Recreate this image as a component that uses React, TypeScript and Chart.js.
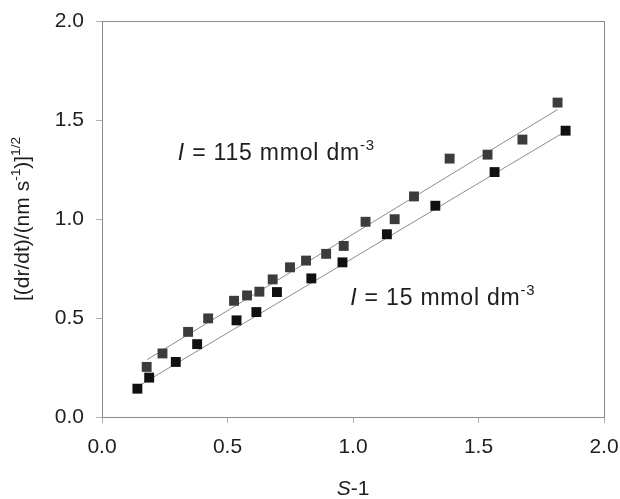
import React, { useEffect, useRef } from "react";
import { Chart, registerables } from "chart.js";

Chart.register(...registerables);

// Data
const xHigh = [0.178, 0.241, 0.343, 0.423, 0.526, 0.578, 0.627, 0.68, 0.749, 0.813, 0.893, 0.963, 1.05, 1.166, 1.243, 1.385, 1.536, 1.675, 1.815];
const yHigh = [0.253, 0.321, 0.43, 0.498, 0.587, 0.614, 0.633, 0.695, 0.756, 0.79, 0.824, 0.864, 0.986, 0.999, 1.114, 1.305, 1.325, 1.401, 1.588];

const xLow = [0.141, 0.188, 0.294, 0.379, 0.536, 0.615, 0.697, 0.834, 0.958, 1.135, 1.328, 1.564, 1.847];
const yLow = [0.143, 0.199, 0.278, 0.368, 0.488, 0.53, 0.631, 0.7, 0.781, 0.923, 1.067, 1.237, 1.446];

// Fitted lines (end points)
const fitHighX = [0.18, 1.815];
const fitHighY = [0.29, 1.553];
const fitLowX = [0.141, 1.847];
const fitLowY = [0.153, 1.443];

const tickValues = [0, 0.5, 1.0, 1.5, 2.0];
const tickLabels = ["0.0", "0.5", "1.0", "1.5", "2.0"];

const labelHigh = { x: 0.302, y: 1.298, main: " = 115 mmol dm", sup: "-3" };
const labelLow = { x: 0.989, y: 0.566, main: " = 15 mmol dm", sup: "-3" };

const FAMILY = '"Liberation Sans", Arial, Helvetica, sans-serif';
const TEXT = "#1e1e1e";

type Seg = { t: string; italic?: boolean; sup?: boolean };

function measureRich(ctx: CanvasRenderingContext2D, segs: Seg[], size: number) {
  let w = 0;
  for (const s of segs) {
    const sz = s.sup ? size * 0.65 : size;
    ctx.font = `${s.italic ? "italic " : ""}${sz}px ${FAMILY}`;
    w += ctx.measureText(s.t).width;
  }
  return w;
}

function drawRich(ctx: CanvasRenderingContext2D, segs: Seg[], x: number, y: number, size: number) {
  let cx = x;
  for (const s of segs) {
    const sz = s.sup ? size * 0.65 : size;
    ctx.font = `${s.italic ? "italic " : ""}${sz}px ${FAMILY}`;
    ctx.fillText(s.t, cx, s.sup ? y - size * 0.42 : y);
    cx += ctx.measureText(s.t).width;
  }
}

const overlayPlugin = {
  id: "overlay",
  afterDraw(chart: any) {
    const { ctx, chartArea, scales } = chart;
    const xs = scales.x;
    const ys = scales.y;
    ctx.save();
    // frame
    ctx.strokeStyle = "#8a8a8a";
    ctx.lineWidth = 1;
    ctx.strokeRect(
      Math.round(chartArea.left) + 0.5,
      Math.round(chartArea.top) + 0.5,
      Math.round(chartArea.right - chartArea.left),
      Math.round(chartArea.bottom - chartArea.top)
    );

    ctx.fillStyle = TEXT;
    ctx.textBaseline = "alphabetic";
    ctx.textAlign = "left";

    // annotations
    (ctx as any).letterSpacing = "0.8px";
    for (const lab of [labelHigh, labelLow]) {
      drawRich(
        ctx,
        [{ t: "I", italic: true }, { t: lab.main }, { t: lab.sup, sup: true }],
        xs.getPixelForValue(lab.x),
        ys.getPixelForValue(lab.y),
        23
      );
    }
    (ctx as any).letterSpacing = "0px";

    // x title
    const xSegs: Seg[] = [{ t: "S", italic: true }, { t: "-1" }];
    const xw = measureRich(ctx, xSegs, 21);
    drawRich(ctx, xSegs, (chartArea.left + chartArea.right) / 2 - xw / 2, 495, 21);

    // y title
    const ySegs: Seg[] = [
      { t: "[(dr/dt)/(nm s" },
      { t: "-1", sup: true },
      { t: ")]" },
      { t: "1/2", sup: true },
    ];
    const yw = measureRich(ctx, ySegs, 21);
    ctx.translate(29, (chartArea.top + chartArea.bottom) / 2);
    ctx.rotate(-Math.PI / 2);
    drawRich(ctx, ySegs, -yw / 2, 0, 21);
    ctx.restore();
  },
};

export default function App() {
  const ref = useRef<HTMLCanvasElement | null>(null);

  useEffect(() => {
    document.body.style.margin = "0";
    const canvas = ref.current!;
    const tickFont = { family: FAMILY, size: 21 };
    const chart = new Chart(canvas, {
      type: "scatter",
      data: {
        datasets: [
          {
            label: "I = 115 mmol dm-3",
            data: xHigh.map((x, i) => ({ x, y: yHigh[i] })),
            pointStyle: "rect",
            pointRadius: 7,
            backgroundColor: "#3c3c3c",
            borderWidth: 0,
          },
          {
            label: "I = 15 mmol dm-3",
            data: xLow.map((x, i) => ({ x, y: yLow[i] })),
            pointStyle: "rect",
            pointRadius: 7,
            backgroundColor: "#101010",
            borderWidth: 0,
          },
          {
            label: "fit 115",
            data: fitHighX.map((x, i) => ({ x, y: fitHighY[i] })),
            showLine: true,
            borderColor: "#8c8c8c",
            borderWidth: 1,
            pointRadius: 0,
          },
          {
            label: "fit 15",
            data: fitLowX.map((x, i) => ({ x, y: fitLowY[i] })),
            showLine: true,
            borderColor: "#8c8c8c",
            borderWidth: 1,
            pointRadius: 0,
          },
        ],
      },
      options: {
        animation: false,
        responsive: false,
        layout: { padding: { top: 21, right: 16, left: 0, bottom: 0 } },
        plugins: { legend: { display: false }, tooltip: { enabled: false } },
        scales: {
          x: {
            type: "linear",
            min: 0,
            max: 2,
            afterBuildTicks: (s: any) => {
              s.ticks = tickValues.map((v) => ({ value: v }));
            },
            afterFit: (s: any) => {
              s.height = 82;
              s.paddingLeft = 0;
              s.paddingRight = 0;
            },
            ticks: {
              callback: (v: any) => tickLabels[tickValues.indexOf(Number(v))] ?? "",
              font: tickFont,
              color: TEXT,
              padding: 12,
              maxRotation: 0,
            },
            grid: { drawOnChartArea: false, drawTicks: true, tickLength: 6, color: "#b0b0b0" },
            border: { display: true, color: "#8a8a8a" },
          },
          y: {
            type: "linear",
            min: 0,
            max: 2,
            afterBuildTicks: (s: any) => {
              s.ticks = tickValues.map((v) => ({ value: v }));
            },
            afterFit: (s: any) => {
              s.width = 102;
              s.paddingTop = 0;
              s.paddingBottom = 0;
            },
            ticks: {
              callback: (v: any) => tickLabels[tickValues.indexOf(Number(v))] ?? "",
              font: tickFont,
              color: TEXT,
              padding: 12,
            },
            grid: { drawOnChartArea: false, drawTicks: true, tickLength: 6, color: "#b0b0b0" },
            border: { display: true, color: "#8a8a8a" },
          },
        },
      },
      plugins: [overlayPlugin],
    });
    return () => chart.destroy();
  }, []);

  return (
    <div style={{ width: 620, height: 499, background: "#ffffff" }}>
      <canvas ref={ref} width={620} height={499} style={{ display: "block" }} />
    </div>
  );
}
